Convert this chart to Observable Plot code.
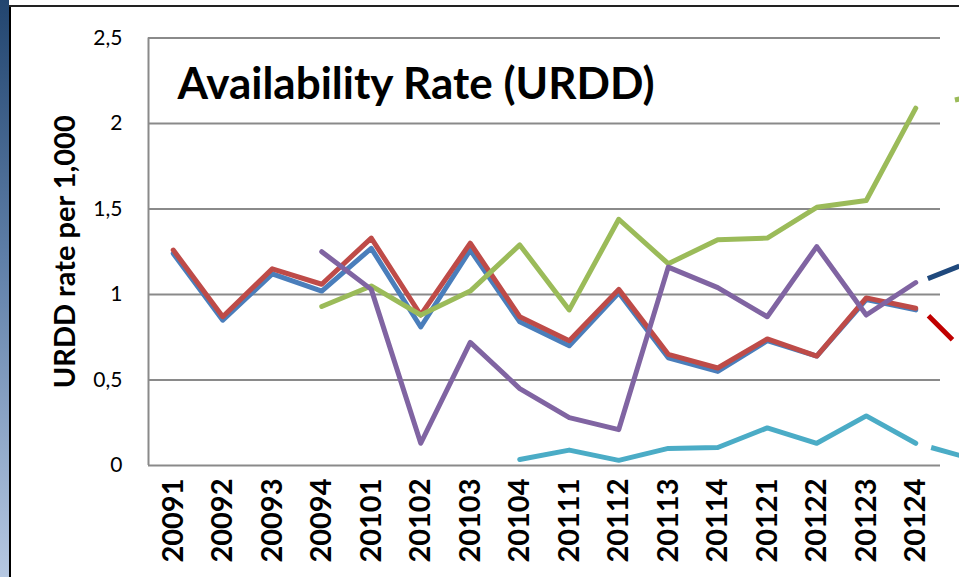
<!DOCTYPE html>
<html>
<head>
<meta charset="utf-8">
<script src="https://cdn.jsdelivr.net/npm/d3@7"></script>
<script src="https://cdn.jsdelivr.net/npm/@observablehq/plot@0.6"></script>
<style>
  html, body { margin: 0; padding: 0; background: #fff; overflow: hidden; }
  body { width: 959px; height: 577px; position: relative; }
  #bar { position: absolute; left: 0; top: 0; width: 9px; height: 577px;
         background: linear-gradient(to bottom, #22456f, #5f7fa8 45%, #b6c8e2); }
  #vline { position: absolute; left: 9px; top: 6px; width: 2px; height: 571px; background: #000; }
  #hline { position: absolute; left: 9px; top: 5px; width: 950px; height: 2px; background: #222; }
  #chart { position: absolute; left: 0; top: 0; }
</style>
</head>
<body>
<div id="bar"></div>
<div id="chart"></div>
<div id="vline"></div>
<div id="hline"></div>
<script>
// Categories (quarters)
const quarters = ["20091","20092","20093","20094","20101","20102","20103","20104",
                  "20111","20112","20113","20114","20121","20122","20123","20124"];

// Series values (null = no data)
const blueVals   = [1.24,0.85,1.12,1.02,1.27,0.81,1.26,0.84,0.70,1.01,0.63,0.55,0.73,0.64,0.97,0.91];
const redVals    = [1.26,0.87,1.15,1.06,1.33,0.88,1.30,0.87,0.73,1.03,0.65,0.57,0.74,0.64,0.98,0.92];
const greenVals  = [null,null,null,0.93,1.05,0.88,1.02,1.29,0.91,1.44,1.18,1.32,1.33,1.51,1.55,2.09];
const purpleVals = [null,null,null,1.25,1.03,0.13,0.72,0.45,0.28,0.21,1.16,1.04,0.87,1.28,0.88,1.07];
const cyanVals   = [null,null,null,null,null,null,null,0.035,0.09,0.03,0.10,0.105,0.22,0.13,0.29,0.13];

// Dashed continuation segments beyond the last quarter: [start, end]
const dashNavy  = [1.065, 1.18];
const dashRed   = [0.95, 0.66];
const dashCyan  = [0.13, 0.05];
const dashGreen = [2.09, 2.15];

const yTicks = [0, 0.5, 1, 1.5, 2, 2.5];

const seriesDefs = [
  {name: "blue",   vals: blueVals,   color: "#4a7ebb"},
  {name: "red",    vals: redVals,    color: "#be4b48"},
  {name: "green",  vals: greenVals,  color: "#9bbb59"},
  {name: "purple", vals: purpleVals, color: "#8064a2"},
  {name: "cyan",   vals: cyanVals,   color: "#4bacc6"}
];

const dashDefs = [
  {name: "navy",  vals: dashNavy,  color: "#1f497d", dash: "0 13 34 10"},
  {name: "dred",  vals: dashRed,   color: "#c00000", dash: "0 18 34 10"},
  {name: "dcyan", vals: dashCyan,  color: "#4bacc6", dash: "0 16 34 10"},
  {name: "dgreen",vals: dashGreen, color: "#9bbb59", dash: "0 40 34 10"}
];

const lineMarks = seriesDefs.map(s => {
  const data = s.vals.map((v, i) => ({i, v})).filter(d => d.v != null);
  return Plot.line(data, {x: "i", y: "v", stroke: s.color, strokeWidth: 5,
    strokeLinecap: "round", strokeLinejoin: "round", clip: false});
});

const dashMarks = dashDefs.map(s => {
  const data = s.vals.map((v, k) => ({i: quarters.length - 1 + k, v}));
  return Plot.line(data, {x: "i", y: "v", stroke: s.color, strokeWidth: 5,
    strokeDasharray: s.dash, strokeLinecap: "butt", clip: false});
});

const chart = Plot.plot({
  width: 959,
  height: 577,
  marginLeft: 148,
  marginRight: 19,
  marginTop: 37.5,
  marginBottom: 112,
  style: {fontFamily: "Lato, sans-serif", background: "transparent", overflow: "visible"},
  x: {type: "linear", domain: [-0.5, quarters.length - 0.5]},
  y: {domain: [0, 2.5]},
  marks: [
    Plot.ruleY(yTicks, {stroke: "#8a8a8a", strokeWidth: 2}),
    Plot.ruleX([-0.5], {y1: 0, y2: 2.5, stroke: "#8a8a8a", strokeWidth: 2}),
    Plot.axisY(yTicks, {tickSize: 0, tickPadding: 26, fontSize: 21, fill: "#000",
      tickFormat: d => String(d).replace(".", ","), label: null}),
    Plot.axisX(d3.range(quarters.length), {tickSize: 0, tickPadding: 13, tickRotate: -90,
      fontSize: 29, fontWeight: "bold", fill: "#000",
      tickFormat: i => quarters[i], label: null}),
    ...lineMarks,
    ...dashMarks,
    Plot.text(["Availability Rate (URDD)"], {frameAnchor: "top-left", dx: 29, dy: 30,
      textAnchor: "start", lineAnchor: "top", fontSize: 44, fontWeight: "bold", fill: "#000"}),
    Plot.text(["URDD rate per 1,000"], {frameAnchor: "left", dx: -83, rotate: -90,
      textAnchor: "middle", lineAnchor: "middle", fontSize: 29, fontWeight: "bold", fill: "#000"})
  ]
});
document.getElementById("chart").appendChild(chart);
</script>
</body>
</html>
